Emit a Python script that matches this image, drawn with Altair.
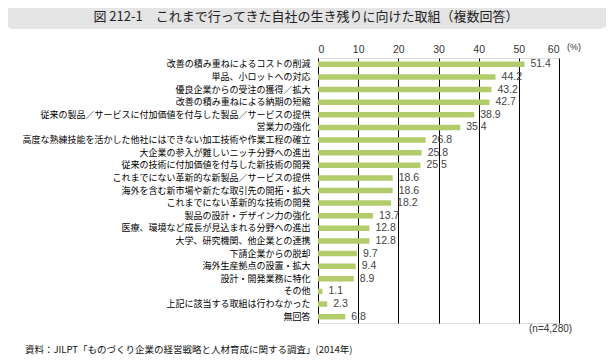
import altair as alt
import pandas as pd

categories = [
    "改善の積み重ねによるコストの削減",
    "単品、小ロットへの対応",
    "優良企業からの受注の獲得／拡大",
    "改善の積み重ねによる納期の短縮",
    "従来の製品／サービスに付加価値を付与した製品／サービスの提供",
    "営業力の強化",
    "高度な熟練技能を活かした他社にはできない加工技術や作業工程の確立",
    "大企業の参入が難しいニッチ分野への進出",
    "従来の技術に付加価値を付与した新技術の開発",
    "これまでにない革新的な新製品／サービスの提供",
    "海外を含む新市場や新たな取引先の開拓・拡大",
    "これまでにない革新的な技術の開発",
    "製品の設計・デザイン力の強化",
    "医療、環境など成長が見込まれる分野への進出",
    "大学、研究機関、他企業との連携",
    "下請企業からの脱却",
    "海外生産拠点の設置・拡大",
    "設計・開発業務に特化",
    "その他",
    "上記に該当する取組は行わなかった",
    "無回答",
]
values = [51.4, 44.2, 43.2, 42.7, 38.9, 35.4, 26.8, 25.8, 25.5, 18.6, 18.6,
          18.2, 13.7, 12.8, 12.8, 9.7, 9.4, 8.9, 1.1, 2.3, 6.8]
x_ticks = [0, 10, 20, 30, 40, 50, 60]

title_text = "図 212-1　これまで行ってきた自社の生き残りに向けた取組（複数回答）"
source_text = "資料：JILPT「ものづくり企業の経営戦略と人材育成に関する調査」(2014年)"
n_text = "(n=4,280)"

df = pd.DataFrame({"cat": categories, "val": values})
one = pd.DataFrame({"k": [0]})

JP = "Noto Sans CJK JP"

base = alt.Chart(df)

bars = base.mark_bar(color="#b3cc6b", size=5.5).encode(
    x=alt.X("val:Q", scale=alt.Scale(domain=[0, 60]),
            axis=alt.Axis(orient="top", values=x_ticks, grid=True,
                          gridColor="#000000", gridWidth=1, domain=False,
                          ticks=False, labelPadding=4, labelFontSize=10.5,
                          labelFont="Liberation Sans", labelColor="#333333",
                          title=None)),
    y=alt.Y("cat:N", sort=None,
            scale=alt.Scale(paddingInner=0.5, paddingOuter=0.25),
            axis=alt.Axis(title=None, ticks=False, domain=False,
                          labelPadding=8, labelFontSize=9, labelFont=JP,
                          labelColor="#000000", labelLimit=400)),
)

labels = base.mark_text(align="left", baseline="middle", dx=6,
                        font="Liberation Sans", fontSize=10.5,
                        color="#444444").encode(
    x="val:Q", y=alt.Y("cat:N", sort=None), text=alt.Text("val:Q", format=".1f"))

banner = alt.Chart(one).mark_rect(color="#e4e4e4", cornerRadius=11).encode(
    x=alt.value(-315), x2=alt.value(292), y=alt.value(-54), y2=alt.value(-29))

title = alt.Chart(one).mark_text(text=title_text, font=JP, fontSize=13,
                                 fontWeight=400,
                                 align="center", baseline="middle",
                                 color="#222222").encode(
    x=alt.value(-12), y=alt.value(-41.5))

pct = alt.Chart(one).mark_text(text="(%)", font="Liberation Sans", fontSize=9,
                               align="left", baseline="middle",
                               color="#333333").encode(
    x=alt.value(249), y=alt.value(-11))

ntxt = alt.Chart(one).mark_text(text=n_text, font="Liberation Sans",
                                fontSize=10, align="left", baseline="middle",
                                color="#333333").encode(
    x=alt.value(211), y=alt.value(271))

src = alt.Chart(one).mark_text(text=source_text, font=JP, fontSize=9.5,
                               align="left", baseline="middle",
                               color="#111111").encode(
    x=alt.value(-293), y=alt.value(292))

chart = alt.layer(banner, title, bars, labels, pct, ntxt, src).properties(
    width=241, height=265,
    padding={"left": 310, "top": 50, "right": 47, "bottom": 33},
    autosize=alt.AutoSizeParams(type="none"),
).configure_view(strokeWidth=0).configure(background="#ffffff")

chart.save("out.html", embed_options={"renderer": "svg", "actions": False})
